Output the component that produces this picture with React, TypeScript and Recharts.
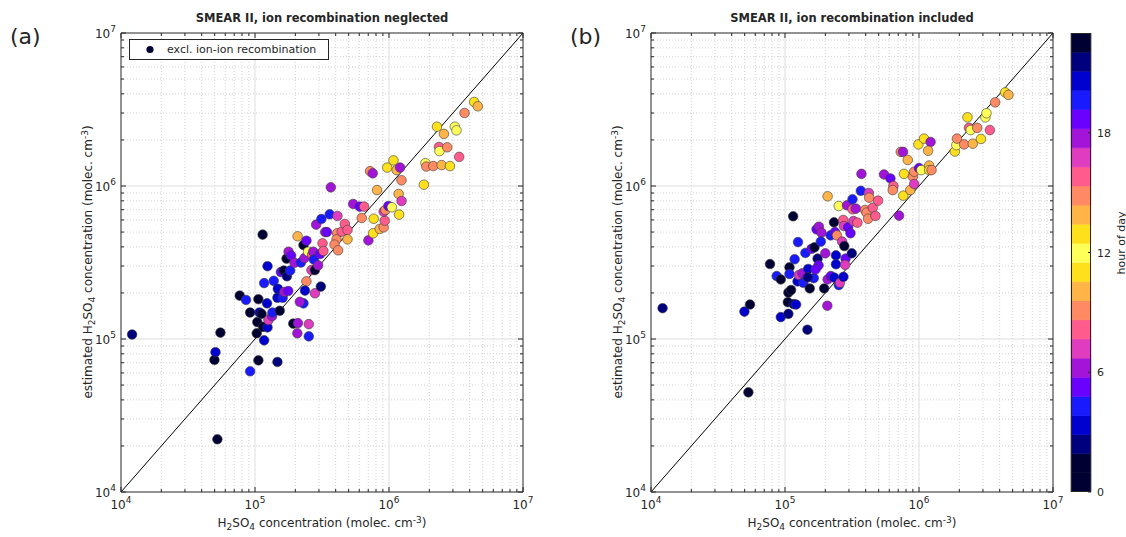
import { Bar, BarChart, Legend, ReferenceLine, Scatter, ScatterChart, XAxis, YAxis } from "recharts"

const FONT = "'DejaVu Sans', Verdana, sans-serif"
const FRAME_COLOR = "#262626"
const TEXT_COLOR = "#262626"
const MAJOR_GRID_COLOR = "#dddddd"
const MINOR_GRID_COLOR = "#c8c8c8"
const DOT_STROKE = "#3a3a3a"

// one colour per hour of day (0..23), symmetric around noon
const HOUR_COLORS = [
	"#000033", "#000033", "#00007f", "#0000cf", "#1a1aff", "#6a00ff", "#a314d9", "#e03cbf",
	"#ff5c8d", "#ff8a64", "#ffb447", "#ffe01c", "#ffff5a", "#ffe01c", "#ffb447", "#ff8a64",
	"#ff5c8d", "#e03cbf", "#a314d9", "#6a00ff", "#1a1aff", "#0000cf", "#00007f", "#000033",
]

const MAJOR_TICKS = [1e4, 1e5, 1e6, 1e7]
const MINOR_TICKS = [
	2e4, 3e4, 4e4, 5e4, 6e4, 7e4, 8e4, 9e4,
	2e5, 3e5, 4e5, 5e5, 6e5, 7e5, 8e5, 9e5,
	2e6, 3e6, 4e6, 5e6, 6e6, 7e6, 8e6, 9e6,
]
const AXIS_TICKS = [...MAJOR_TICKS, ...MINOR_TICKS].sort((a, b) => a - b)
const COLORBAR_TICKS = [0, 6, 12, 18]
const COLORBAR_BINS = [
	0, 1, 2, 3, 4, 5, 6, 7, 8, 9, 10, 11, 12, 13, 14, 15, 16, 17, 18, 19, 20, 21, 22, 23,
]

// (a) ion recombination neglected
const measuredA = [
	1.21e4, 4.98e4, 5.07e4, 5.52e4, 5.24e4, 9.2e4, 1.06e5, 1.47e5, 7.69e4, 8.57e4,
	9.2e4, 1.06e5, 1.08e5, 1.12e5, 1.04e5, 1.03e5, 1.17e5, 1.15e5, 1.24e5, 1.26e5,
	1.34e5, 1.35e5, 1.53e5, 1.23e5, 1.17e5, 1.24e5, 1.14e5, 1.38e5, 1.48e5, 1.47e5,
	1.61e5, 1.65e5, 1.77e5, 1.56e5, 1.64e5, 1.73e5, 1.83e5, 1.72e5, 1.78e5, 1.86e5,
	1.97e5, 2.2e5, 2.08e5, 2.3e5, 2.42e5, 2.34e5, 2.49e5, 2.67e5, 2.72e5, 2.75e5,
	2.42e5, 2.36e5, 2.3e5, 2.16e5, 2.8e5, 2.64e5, 2.8e5, 2.96e5, 3.1e5, 1.93e5,
	2.09e5, 2.07e5, 2.52e5, 2.52e5, 3.06e5, 3.19e5, 3.24e5, 2.86e5, 3.34e5, 3.44e5,
	3.13e5, 3.61e5, 3.68e5, 4.12e5, 4.1e5, 4.06e5, 3.92e5, 4.17e5, 4.44e5, 4.68e5,
	4.9e5, 4.9e5, 5.4e5, 6.05e5, 6.52e5, 6.26e5, 7.02e5, 7.22e5, 7.56e5, 7.69e5,
	7.62e5, 8.14e5, 8.53e5, 9.12e5, 9.29e5, 9.12e5, 9.4e5, 9.9e5, 1.05e6, 9.7e5,
	1.08e6, 1.14e6, 1.21e6, 1.24e6, 1.18e6, 1.19e6, 1.24e6, 1.82e6, 1.87e6, 1.9e6,
	2.14e6, 2.47e6, 2.85e6, 2.28e6, 2.57e6, 2.36e6, 2.38e6, 2.72e6, 3.1e6, 3.19e6,
	3.34e6, 3.66e6, 4.32e6, 4.6e6,
]
const estimatedA = [
	1.07e5, 7.3e4, 8.2e4, 1.1e5, 2.21e4, 6.15e4, 7.25e4, 7.08e4, 1.92e5, 1.8e5,
	1.49e5, 1.82e5, 1.49e5, 1.46e5, 1.29e5, 1.09e5, 9.8e4, 1.2e5, 1.19e5, 1.33e5,
	1.41e5, 1.49e5, 1.53e5, 1.71e5, 2.32e5, 2.99e5, 4.81e5, 2.4e5, 2.13e5, 1.86e5,
	1.86e5, 2.03e5, 2.06e5, 2.74e5, 2.8e5, 2.57e5, 2.8e5, 3.35e5, 3.72e5, 3.51e5,
	3.15e5, 3.16e5, 4.69e5, 4.11e5, 4.39e5, 3.38e5, 3.72e5, 3.54e5, 3.72e5, 3.3e5,
	2.38e5, 2.07e5, 1.71e5, 1.75e5, 1.99e5, 2.82e5, 2.82e5, 3.03e5, 2.2e5, 1.26e5,
	1.27e5, 1.09e5, 1.25e5, 1.04e5, 3.59e5, 4.22e5, 3.76e5, 5.59e5, 5.0e5, 5.0e5,
	6.09e5, 6.53e5, 9.8e5, 6.37e5, 4.91e5, 4.48e5, 4.14e5, 3.8e5, 5.03e5, 5.65e5,
	5.16e5, 4.48e5, 7.63e5, 7.33e5, 7.33e5, 6.18e5, 4.41e5, 1.25e6, 1.21e6, 6.11e5,
	4.91e5, 9.4e5, 5.24e5, 5.37e5, 5.93e5, 6.8e5, 6.97e5, 7.4e5, 7.26e5, 1.32e6,
	1.47e6, 1.27e6, 1.32e6, 1.09e6, 8.87e5, 6.5e5, 7.98e5, 1.02e6, 1.41e6, 1.34e6,
	1.35e6, 1.37e6, 1.35e6, 2.44e6, 2.19e6, 1.8e6, 1.69e6, 1.79e6, 2.44e6, 2.31e6,
	1.55e6, 3.0e6, 3.54e6, 3.32e6,
]
const hourA = [
	2, 1, 3, 23, 1, 4, 1, 2, 1, 4,
	23, 1, 3, 23, 1, 1, 3, 23, 21, 7,
	6, 4, 1, 3, 4, 3, 1, 4, 3, 21,
	20, 6, 5, 19, 23, 2, 4, 1, 18, 5,
	6, 20, 10, 23, 19, 18, 12, 8, 6, 4,
	9, 3, 4, 6, 7, 17, 1, 18, 2, 23,
	6, 18, 7, 4, 5, 8, 16, 6, 18, 19,
	4, 20, 6, 17, 9, 15, 9, 15, 8, 16,
	8, 10, 18, 5, 16, 9, 6, 15, 18, 11,
	13, 14, 10, 9, 16, 7, 15, 5, 12, 11,
	13, 14, 6, 9, 10, 11, 17, 13, 12, 9,
	15, 10, 11, 13, 14, 16, 12, 15, 12, 12,
	8, 9, 13, 14,
]

// (b) ion recombination included
const measuredB = [
	1.22e4, 4.98e4, 5.48e4, 5.33e4, 7.73e4, 8.67e4, 9.3e4, 9.3e4, 1.06e5, 1.05e5,
	1.06e5, 1.11e5, 1.08e5, 1.08e5, 1.16e5, 1.21e5, 1.18e5, 1.25e5, 1.15e5, 1.24e5,
	1.27e5, 1.35e5, 1.37e5, 1.47e5, 1.49e5, 1.53e5, 1.64e5, 1.48e5, 1.42e5, 1.58e5,
	1.66e5, 1.75e5, 1.78e5, 1.69e5, 1.72e5, 1.79e5, 1.87e5, 1.85e5, 1.96e5, 2.0e5,
	2.08e5, 2.07e5, 2.2e5, 2.33e5, 2.19e5, 2.32e5, 2.36e5, 2.44e5, 2.4e5, 2.4e5,
	2.52e5, 2.57e5, 2.72e5, 2.75e5, 2.67e5, 2.77e5, 2.83e5, 2.81e5, 2.73e5, 2.96e5,
	3.08e5, 3.15e5, 2.08e5, 2.52e5, 2.9e5, 3.19e5, 3.19e5, 3.38e5, 3.24e5, 3.47e5,
	3.72e5, 3.68e5, 4.22e5, 4.25e5, 3.96e5, 4.06e5, 4.17e5, 4.52e5, 4.73e5, 4.95e5,
	5.48e5, 6.12e5, 6.44e5, 6.37e5, 7.1e5, 7.31e5, 7.6e5, 7.73e5, 7.64e5, 8.24e5,
	8.61e5, 9.0e5, 9.2e5, 9.2e5, 1.0e6, 1.04e6, 9.9e5, 1.09e6, 1.22e6, 1.17e6,
	1.19e6, 1.19e6, 1.24e6, 1.85e6, 1.9e6, 1.92e6, 2.17e6, 2.52e6, 2.9e6, 2.3e6,
	2.36e6, 2.43e6, 2.72e6, 3.13e6, 3.19e6, 3.38e6, 3.7e6, 4.4e6, 4.65e6,
]
const estimatedB = [
	1.59e5, 1.51e5, 1.68e5, 4.48e4, 3.09e5, 2.58e5, 2.45e5, 1.39e5, 1.46e5, 1.74e5,
	2.01e5, 2.09e5, 2.94e5, 2.66e5, 1.69e5, 1.68e5, 3.32e5, 4.3e5, 6.34e5, 2.38e5,
	2.62e5, 2.69e5, 2.33e5, 1.15e5, 2.87e5, 2.14e5, 2.5e5, 2.53e5, 3.65e5, 3.89e5,
	3.97e5, 3.35e5, 3.03e5, 2.85e5, 5.21e5, 5.42e5, 4.95e5, 4.33e5, 2.14e5, 3.63e5,
	2.45e5, 1.65e5, 2.58e5, 2.52e5, 4.76e5, 5.79e5, 5.0e5, 4.76e5, 3.52e5, 3.08e5,
	2.25e5, 2.33e5, 6.0e5, 5.48e5, 4.33e5, 4.05e5, 3.35e5, 3.05e5, 2.55e5, 5.37e5,
	4.91e5, 3.63e5, 8.56e5, 7.4e5, 7.48e5, 8.18e5, 7.04e5, 7.11e5, 5.9e5, 5.76e5,
	1.2e6, 9.3e5, 9.0e5, 8.39e5, 6.97e5, 6.7e5, 6.11e5, 7.21e5, 6.37e5, 8.02e5,
	1.19e6, 1.12e6, 1.0e6, 9.4e5, 6.4e5, 1.67e6, 1.67e6, 1.2e6, 8.65e5, 1.48e6,
	9.4e5, 1.15e6, 1.24e6, 1.03e6, 1.31e6, 1.27e6, 1.87e6, 2.04e6, 1.94e6, 1.7e6,
	1.36e6, 1.27e6, 1.27e6, 1.68e6, 1.85e6, 2.04e6, 1.87e6, 1.89e6, 2.03e6, 2.81e6,
	2.4e6, 2.32e6, 2.4e6, 2.81e6, 2.99e6, 2.32e6, 3.52e6, 4.09e6, 3.94e6,
]
const hourB = [
	2, 3, 1, 23, 1, 4, 23, 3, 2, 1,
	23, 1, 1, 4, 22, 3, 4, 20, 1, 3,
	7, 6, 4, 2, 3, 23, 4, 22, 20, 5,
	1, 2, 19, 5, 19, 6, 18, 4, 23, 6,
	18, 6, 5, 3, 4, 1, 19, 9, 3, 21,
	4, 7, 8, 17, 7, 23, 5, 17, 3, 19,
	5, 2, 10, 12, 18, 4, 16, 6, 17, 8,
	6, 20, 7, 9, 15, 9, 15, 16, 8, 16,
	18, 5, 8, 9, 6, 15, 18, 11, 13, 10,
	14, 9, 15, 7, 19, 12, 11, 13, 6, 14,
	10, 11, 15, 13, 12, 9, 15, 10, 11, 13,
	16, 12, 9, 12, 12, 8, 15, 11, 14,
]

type Point = { x: number; y: number; hour: number }

const pointsA: Point[] = measuredA.map((x, i) => ({ x, y: estimatedA[i], hour: hourA[i] }))
const pointsB: Point[] = measuredB.map((x, i) => ({ x, y: estimatedB[i], hour: hourB[i] }))

type Side = "bottom" | "top" | "left" | "right"

// Matlab-like inward ticks; labels only on the bottom/left majors
function makeTick(side: Side) {
	return (props: any) => {
		const { x, y, payload } = props
		const v = Number(payload.value)
		const major = MAJOR_TICKS.includes(v)
		const len = major ? 5 : 3
		const dx = side === "left" ? len : side === "right" ? -len : 0
		const dy = side === "top" ? len : side === "bottom" ? -len : 0
		const exp = Math.round(Math.log10(v))
		return (
			<g>
				<line x1={x} y1={y} x2={x + dx} y2={y + dy} stroke={FRAME_COLOR} strokeWidth={1} />
				{major && side === "bottom" && (
					<text x={x} y={y + 17} textAnchor="middle" fontSize={12} fill={TEXT_COLOR} fontFamily={FONT}>
						10<tspan dy={-6} fontSize={9}>{exp}</tspan>
					</text>
				)}
				{major && side === "left" && (
					<text x={x - 5} y={y + 5} textAnchor="end" fontSize={12} fill={TEXT_COLOR} fontFamily={FONT}>
						10<tspan dy={-6} fontSize={9}>{exp}</tspan>
					</text>
				)}
			</g>
		)
	}
}

const renderDot = (props: any) => {
	const { cx, cy, payload } = props
	if (cx == null || cy == null) return <g />
	return (
		<circle cx={cx} cy={cy} r={4.8} fill={HOUR_COLORS[payload.hour]} stroke={DOT_STROKE} strokeWidth={0.6} />
	)
}

const Sub = ({ children }: { children: React.ReactNode }) => (
	<span style={{ fontSize: "0.75em", verticalAlign: "-0.3em" }}>{children}</span>
)
const Sup = ({ children }: { children: React.ReactNode }) => (
	<span style={{ fontSize: "0.75em", verticalAlign: "0.5em" }}>{children}</span>
)

function LegendBox() {
	return (
		<div
			style={{
				width: 200,
				height: 21,
				border: `1px solid ${FRAME_COLOR}`,
				background: "#fff",
				boxSizing: "border-box",
				display: "flex",
				alignItems: "center",
				fontFamily: FONT,
				fontSize: 11,
				color: TEXT_COLOR,
			}}
		>
			<svg width={37} height={19}>
				<circle cx={20} cy={9.5} r={3.6} fill={HOUR_COLORS[0]} />
			</svg>
			<span>excl. ion-ion recombination</span>
		</div>
	)
}

interface PanelProps {
	left: number
	title: string
	points: Point[]
	withLegend?: boolean
}

function Panel({ left, title, points, withLegend = false }: PanelProps) {
	return (
		<div style={{ position: "absolute", left, top: 0, width: 540, height: 537 }}>
			<ScatterChart width={540} height={537} margin={{ top: 33, right: 17, bottom: 15, left: 81 }}>
				<XAxis
					dataKey="x"
					type="number"
					scale="log"
					domain={[1e4, 1e7]}
					allowDataOverflow
					ticks={AXIS_TICKS}
					interval={0}
					height={30}
					tickLine={false}
					tickSize={0}
					tickMargin={0}
					axisLine={{ stroke: FRAME_COLOR }}
					tick={makeTick("bottom")}
				/>
				<XAxis
					xAxisId="top"
					dataKey="x"
					orientation="top"
					mirror
					type="number"
					scale="log"
					domain={[1e4, 1e7]}
					allowDataOverflow
					ticks={AXIS_TICKS}
					interval={0}
					tickLine={false}
					tickSize={0}
					tickMargin={0}
					axisLine={{ stroke: FRAME_COLOR }}
					tick={makeTick("top")}
				/>
				<YAxis
					dataKey="y"
					type="number"
					scale="log"
					domain={[1e4, 1e7]}
					allowDataOverflow
					ticks={AXIS_TICKS}
					interval={0}
					width={40}
					tickLine={false}
					tickSize={0}
					tickMargin={0}
					axisLine={{ stroke: FRAME_COLOR }}
					tick={makeTick("left")}
				/>
				<YAxis
					yAxisId="right"
					dataKey="y"
					orientation="right"
					mirror
					type="number"
					scale="log"
					domain={[1e4, 1e7]}
					allowDataOverflow
					ticks={AXIS_TICKS}
					interval={0}
					tickLine={false}
					tickSize={0}
					tickMargin={0}
					axisLine={{ stroke: FRAME_COLOR }}
					tick={makeTick("right")}
				/>
				{MINOR_TICKS.map((v) => (
					<ReferenceLine key={`mx${v}`} x={v} stroke={MINOR_GRID_COLOR} strokeDasharray="1 2" strokeWidth={0.8} />
				))}
				{MINOR_TICKS.map((v) => (
					<ReferenceLine key={`my${v}`} y={v} stroke={MINOR_GRID_COLOR} strokeDasharray="1 2" strokeWidth={0.8} />
				))}
				{[1e5, 1e6].map((v) => (
					<ReferenceLine key={`Mx${v}`} x={v} stroke={MAJOR_GRID_COLOR} strokeWidth={1} />
				))}
				{[1e5, 1e6].map((v) => (
					<ReferenceLine key={`My${v}`} y={v} stroke={MAJOR_GRID_COLOR} strokeWidth={1} />
				))}
				<ReferenceLine
					segment={[
						{ x: 1e4, y: 1e4 },
						{ x: 1e7, y: 1e7 },
					]}
					stroke="#000"
					strokeWidth={1}
				/>
				<Scatter data={points} shape={renderDot} isAnimationActive={false} />
				{withLegend && (
					<Legend
						layout="vertical"
						align="center"
						verticalAlign="middle"
						wrapperStyle={{ left: 129, top: 39, width: 200, height: 21 }}
						content={() => <LegendBox />}
					/>
				)}
			</ScatterChart>
			<div
				style={{
					position: "absolute",
					left: 322,
					top: 13,
					transform: "translateX(-50%)",
					whiteSpace: "nowrap",
					fontWeight: "bold",
					fontSize: 11.5,
					lineHeight: 1,
				}}
			>
				{title}
			</div>
			<div
				style={{
					position: "absolute",
					left: 89,
					top: 262,
					transform: "translate(-50%, -50%) rotate(-90deg)",
					whiteSpace: "nowrap",
					fontSize: 12,
					lineHeight: 1,
				}}
			>
				estimated H<Sub>2</Sub>SO<Sub>4</Sub> concentration (molec. cm<Sup>-3</Sup>)
			</div>
			<div
				style={{
					position: "absolute",
					left: 322,
					top: 524,
					transform: "translate(-50%, -50%)",
					whiteSpace: "nowrap",
					fontSize: 12,
					lineHeight: 1,
				}}
			>
				H<Sub>2</Sub>SO<Sub>4</Sub> concentration (molec. cm<Sup>-3</Sup>)
			</div>
		</div>
	)
}

const ColorbarTick = (props: any) => {
	const { x, y, payload } = props
	return (
		<g>
			<line x1={x - 3} y1={y} x2={x} y2={y} stroke={FRAME_COLOR} />
			<text x={x + 6} y={y + 4} fontSize={11} fill={TEXT_COLOR} fontFamily={FONT}>
				{payload.value}
			</text>
		</g>
	)
}

function Colorbar() {
	const row = [Object.fromEntries(COLORBAR_BINS.map((h) => [`h${h}`, 1]))]
	return (
		<div style={{ position: "absolute", left: 1066, top: 0, width: 60, height: 537 }}>
			<BarChart width={60} height={537} data={row} margin={{ top: 33, right: 5, bottom: 45, left: 5 }} barCategoryGap={0} barGap={0}>
				<XAxis hide />
				<YAxis yAxisId="bins" hide type="number" domain={[0, 24]} allowDataOverflow />
				<YAxis
					yAxisId="hour"
					orientation="right"
					type="number"
					domain={[0, 23]}
					allowDataOverflow
					ticks={COLORBAR_TICKS}
					interval={0}
					width={30}
					axisLine={false}
					tickLine={false}
					tickSize={0}
					tickMargin={0}
					tick={ColorbarTick}
				/>
				{COLORBAR_BINS.map((h) => (
					<Bar
						key={h}
						yAxisId="bins"
						dataKey={`h${h}`}
						stackId="cb"
						fill={HOUR_COLORS[h]}
						stroke={HOUR_COLORS[h]}
						strokeWidth={0.6}
						isAnimationActive={false}
					/>
				))}
			</BarChart>
			<div
				style={{
					position: "absolute",
					left: 5,
					top: 33,
					width: 20,
					height: 459,
					border: `1px solid ${FRAME_COLOR}`,
					boxSizing: "border-box",
					pointerEvents: "none",
				}}
			/>
			<div
				style={{
					position: "absolute",
					left: 55,
					top: 243,
					transform: "translate(-50%, -50%) rotate(-90deg)",
					whiteSpace: "nowrap",
					fontSize: 11,
					lineHeight: 1,
				}}
			>
				hour of day
			</div>
		</div>
	)
}

export default function App() {
	return (
		<div
			style={{
				position: "absolute",
				left: 0,
				top: 0,
				width: 1126,
				height: 537,
				background: "#fff",
				fontFamily: FONT,
				color: TEXT_COLOR,
				overflow: "hidden",
			}}
		>
			<Panel left={0} title="SMEAR II, ion recombination neglected" points={pointsA} withLegend />
			<Panel left={530} title="SMEAR II, ion recombination included" points={pointsB} />
			<Colorbar />
			<div style={{ position: "absolute", left: 10, top: 26, fontSize: 22, lineHeight: 1 }}>(a)</div>
			<div style={{ position: "absolute", left: 570, top: 26, fontSize: 22, lineHeight: 1 }}>(b)</div>
		</div>
	)
}
